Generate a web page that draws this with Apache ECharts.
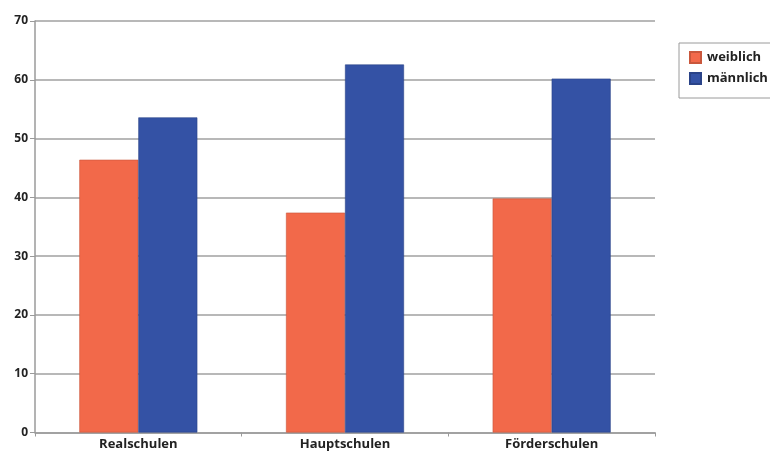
<!DOCTYPE html>
<html>
<head>
<meta charset="utf-8">
<script src="https://cdn.jsdelivr.net/npm/echarts@6/dist/echarts.min.js"></script>
<style>
  html, body { margin: 0; padding: 0; background: #fff; }
  #chart { width: 770px; height: 451px; }
</style>
</head>
<body>
<div id="chart"></div>
<script>
// Schularten und Anteile (in %) nach Geschlecht
const categories = ['Realschulen', 'Hauptschulen', 'Förderschulen'];
const weiblich = [46.4, 37.4, 39.8];
const maennlich = [53.6, 62.6, 60.2];
const seriesNames = ['weiblich', 'männlich'];

const FONT = '"Open Sans", "DejaVu Sans", sans-serif';
const chart = echarts.init(document.getElementById('chart'), null, { renderer: 'canvas' });

chart.setOption({
  animation: false,
  backgroundColor: '#ffffff',
  grid: { left: 35, right: 115, top: 21, bottom: 18.5, containLabel: false },
  legend: {
    orient: 'vertical',
    left: 679,
    top: 43,
    data: seriesNames,
    icon: 'rect',
    itemWidth: 11,
    itemHeight: 11,
    itemGap: 8,
    padding: [8, 12, 13, 10],
    borderColor: '#9a9a9a',
    borderWidth: 1,
    textStyle: { fontFamily: FONT, fontWeight: 'bold', fontSize: 13, color: '#222', padding: [0, 0, 0, 1] }
  },
  xAxis: {
    type: 'category',
    data: categories,
    axisLine: { lineStyle: { color: '#9a9a9a', width: 1.5 } },
    axisTick: { show: true, length: 4, lineStyle: { color: '#9a9a9a' } },
    axisLabel: { fontFamily: FONT, fontWeight: 'bold', fontSize: 13, color: '#222', margin: 5 }
  },
  yAxis: {
    type: 'value',
    min: 0,
    max: 70,
    interval: 10,
    axisLine: { show: true, lineStyle: { color: '#9a9a9a', width: 1.5 } },
    axisTick: { show: true, length: 5, lineStyle: { color: '#9a9a9a' } },
    axisLabel: { fontFamily: FONT, fontWeight: 'bold', fontSize: 12, color: '#222', margin: 7 },
    splitLine: { lineStyle: { color: '#a0a0a0', width: 1.5 } }
  },
  series: [
    {
      name: seriesNames[0],
      type: 'bar',
      data: weiblich,
      barWidth: 59,
      barGap: '0%',
      itemStyle: { color: '#f2694a', borderColor: '#c9573c', borderWidth: 0.6 }
    },
    {
      name: seriesNames[1],
      type: 'bar',
      data: maennlich,
      barWidth: 59,
      barGap: '0%',
      itemStyle: { color: '#3452a5', borderColor: '#2a4388', borderWidth: 0.6 }
    }
  ]
});
</script>
</body>
</html>
